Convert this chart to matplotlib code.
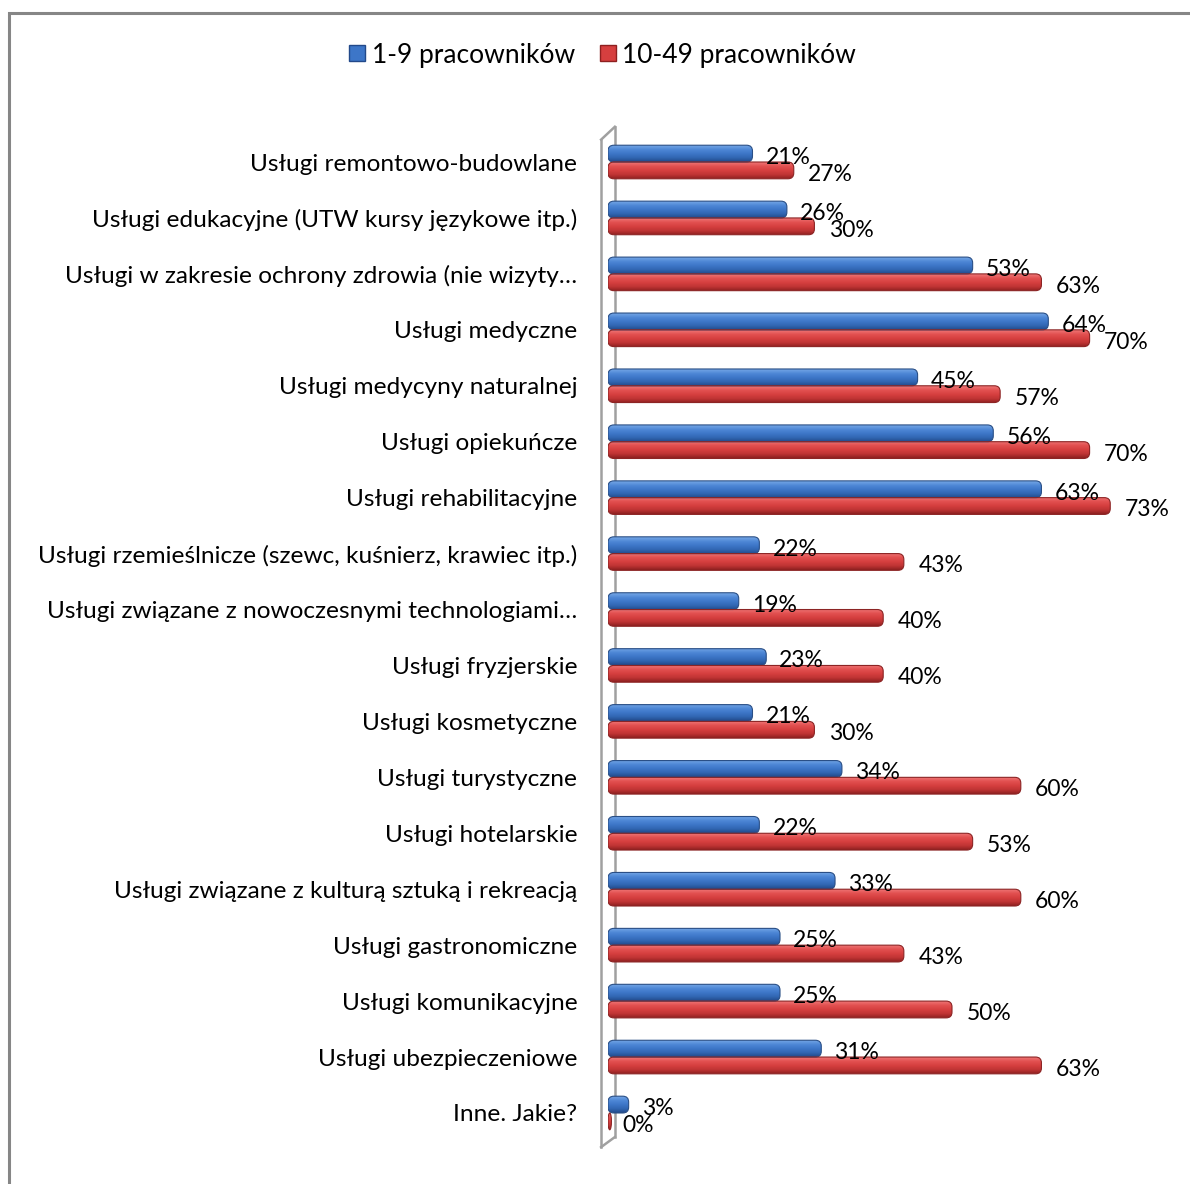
import matplotlib
matplotlib.use("Agg")
import matplotlib.pyplot as plt
import numpy as np
from matplotlib.patches import FancyBboxPatch, Rectangle, Ellipse
from matplotlib.lines import Line2D
from matplotlib.colors import LinearSegmentedColormap

plt.rcParams['font.family'] = ['Lato', 'DejaVu Sans']

categories = [
    "Usługi remontowo-budowlane",
    "Usługi edukacyjne (UTW kursy językowe itp.)",
    "Usługi w zakresie ochrony zdrowia (nie wizyty…",
    "Usługi medyczne",
    "Usługi medycyny naturalnej",
    "Usługi opiekuńcze",
    "Usługi rehabilitacyjne",
    "Usługi rzemieślnicze (szewc, kuśnierz, krawiec itp.)",
    "Usługi związane z nowoczesnymi technologiami…",
    "Usługi fryzjerskie",
    "Usługi kosmetyczne",
    "Usługi turystyczne",
    "Usługi hotelarskie",
    "Usługi związane z kulturą sztuką i rekreacją",
    "Usługi gastronomiczne",
    "Usługi komunikacyjne",
    "Usługi ubezpieczeniowe",
    "Inne. Jakie?",
]
small_firms = [21, 26, 53, 64, 45, 56, 63, 22, 19, 23, 21, 34, 22, 33, 25, 25, 31, 3]
medium_firms = [27, 30, 63, 70, 57, 70, 73, 43, 40, 40, 30, 60, 53, 60, 43, 50, 63, 0]
series_names = ["1-9 pracowników", "10-49 pracowników"]

W, H = 1190, 1184
fig = plt.figure(figsize=(W / 100, H / 100), dpi=100)
fig.patch.set_facecolor("white")

# outer chart frame (open to the right and bottom)
fig.add_artist(Rectangle((8.5 / W, -0.05), 1.2, 1 - 12.5 / H + 0.05,
                         transform=fig.transFigure, fill=False,
                         edgecolor="#868686", linewidth=2.2))

px_per_unit = 6.88
row_px = 55.94
x0_px, first_row_px = 608, 162
ax_top_px = 100
ax = fig.add_axes([x0_px / W, 0, (W - x0_px) / W, 1 - ax_top_px / H])
for s in ax.spines.values():
    s.set_visible(False)
ax.set_xticks([])

n = len(categories)
y = np.arange(n)
bar_h = 0.3
off = 0.15

blue_cmap = LinearSegmentedColormap.from_list(
    "b", ["#74a6e6", "#4f88d6", "#3d76c8", "#3166b2", "#22498a"])
red_cmap = LinearSegmentedColormap.from_list(
    "r", ["#ef7676", "#e25050", "#d63f3f", "#bf3434", "#8e2020"])

# back wall of the 3-D plot area
depth_x = 1.0
wall_col = "#a0a0a0"
top_y = y[0] - 0.63
bot_y = y[-1] + 0.43
ax.plot([depth_x, depth_x], [top_y, bot_y], color=wall_col, lw=1.8, zorder=1)
ax.plot([-depth_x, -depth_x], [top_y + 0.23, bot_y + 0.18], color=wall_col, lw=1.8,
        zorder=1, clip_on=False)
ax.plot([-depth_x, depth_x], [top_y + 0.23, top_y], color=wall_col, lw=1.8,
        zorder=1, clip_on=False)
ax.plot([-depth_x, depth_x], [bot_y + 0.18, bot_y], color=wall_col, lw=1.8,
        zorder=1, clip_on=False)

bars_small = ax.barh(y - off, small_firms, height=bar_h, color="none", zorder=2)
bars_med = ax.barh(y + off, medium_firms, height=bar_h, color="none", zorder=2)

grad = np.linspace(0, 1, 64).reshape(-1, 1)
aspect = px_per_unit / row_px
radius = 0.85


def shade(bars, cmap, edge):
    for b in bars:
        bx, by, bw, bh = b.get_x(), b.get_y(), b.get_width(), b.get_height()
        if bw > 2 * radius:
            p = FancyBboxPatch((bx, by), bw, bh,
                               boxstyle=f"round,pad=0,rounding_size={radius}",
                               mutation_aspect=aspect, facecolor="none",
                               edgecolor=edge, linewidth=0.8, zorder=3)
        else:
            p = Ellipse((bx + 0.25, by + bh / 2), 0.5, bh, facecolor="none",
                        edgecolor=edge, linewidth=0.8, zorder=3)
        ax.add_patch(p)
        im = ax.imshow(grad, cmap=cmap, aspect="auto", interpolation="bilinear",
                       extent=(bx - 0.3, bx + max(bw, 0.5) + 0.3, by + bh, by),
                       zorder=2.5)
        im.set_clip_path(p)


shade(bars_small, blue_cmap, "#2a4f86")
shade(bars_med, red_cmap, "#8c2424")
ax.set_xlim(0, (W - x0_px) / px_per_unit)
ax.set_ylim((H - first_row_px) / row_px, (ax_top_px - first_row_px) / row_px)

fs_val = 16.5
for yi, v in zip(y, small_firms):
    ax.text(v + 1.9, yi - off + 0.07, f"{v}%", va="center", ha="left",
            fontsize=fs_val, color="black", zorder=5)
for yi, v in zip(y, medium_firms):
    ax.text(v + 2.1, yi + off + 0.07, f"{v}%", va="center", ha="left",
            fontsize=fs_val, color="black", zorder=5)

ax.set_yticks(y)
ax.set_yticklabels(categories, fontsize=17.6)
ax.tick_params(axis="y", length=0, pad=22)

handles = [
    Line2D([], [], marker="s", linestyle="none", markersize=11,
           markerfacecolor="#3d76c8", markeredgecolor="#22498a"),
    Line2D([], [], marker="s", linestyle="none", markersize=11,
           markerfacecolor="#d63f3f", markeredgecolor="#8e2020"),
]
fig.legend(handles, series_names, loc="center", bbox_to_anchor=(602 / W, 1 - 55 / H),
           ncol=2, frameon=False, fontsize=19, handlelength=0.7,
           handletextpad=0.2, columnspacing=0.9)

fig.savefig("out.png", dpi=100, facecolor="white")
